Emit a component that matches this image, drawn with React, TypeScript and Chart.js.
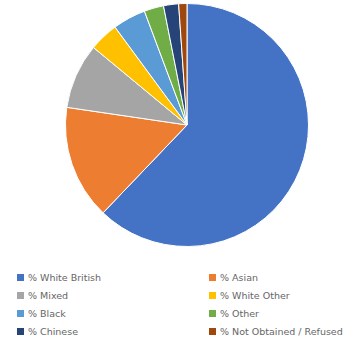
import React, { useEffect, useRef } from "react";
import { Chart, registerables } from "chart.js";

Chart.register(...registerables);

const categories = [
  "% White British",
  "% Asian",
  "% Mixed",
  "% White Other",
  "% Black",
  "% Other",
  "% Chinese",
  "% Not Obtained / Refused",
];
const values = [62.2, 15.2, 8.7, 3.9, 4.4, 2.6, 2.0, 1.1];
const colors = ["#4472C4", "#ED7D31", "#A5A5A5", "#FFC000", "#5B9BD5", "#70AD47", "#264478", "#9E480E"];

export default function App() {
  const ref = useRef<HTMLCanvasElement | null>(null);
  useEffect(() => {
    if (!ref.current) return;
    const chart = new Chart(ref.current, {
      type: "pie",
      data: {
        labels: categories,
        datasets: [
          {
            data: values,
            backgroundColor: colors,
            borderColor: "#ffffff",
            borderWidth: 1,
          },
        ],
      },
      options: {
        animation: false,
        responsive: false,
        layout: { padding: { left: 14, top: 3, bottom: 3, right: 0 } },
        plugins: { legend: { display: false }, tooltip: { enabled: false } },
      },
    });
    return () => chart.destroy();
  }, []);

  return (
    <div style={{ position: "absolute", left: 0, top: 0, width: 360, height: 344, background: "#fff", overflow: "hidden" }}>
      <canvas ref={ref} width={360} height={250} style={{ position: "absolute", left: 0, top: 0, width: 360, height: 250 }} />
      {categories.map((c, i) => {
        const col = i % 2;
        const row = Math.floor(i / 2);
        const left = col === 0 ? 17 : 209;
        const cy = 277 + row * 18;
        return (
          <div key={c} style={{ position: "absolute", left, top: cy - 7, height: 14, display: "flex", alignItems: "center", whiteSpace: "nowrap", fontFamily: "'DejaVu Sans', sans-serif", fontSize: 9.5, color: "#666666" }}>
            <span style={{ display: "inline-block", width: 7, height: 7, background: colors[i], marginRight: 4 }} />
            <span>{c}</span>
          </div>
        );
      })}
    </div>
  );
}
